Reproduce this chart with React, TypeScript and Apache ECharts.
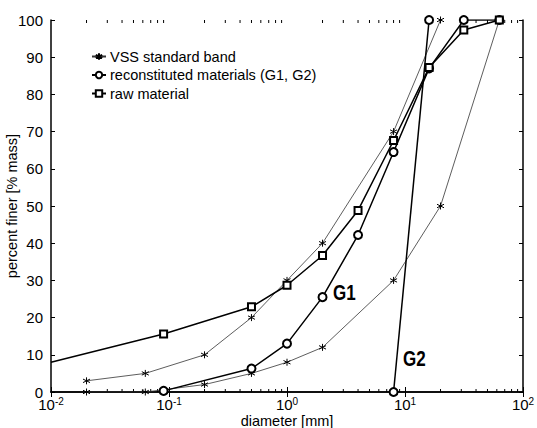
import React, { useEffect, useRef } from "react";
import * as echarts from "echarts";

// diameters [mm]
const vssLowerX = [0.02, 0.063, 0.2, 0.5, 1, 2, 8, 20, 63];
const vssLowerY = [0, 0, 2, 5, 8, 12, 30, 50, 100];
const vssUpperX = [0.02, 0.063, 0.2, 0.5, 1, 2, 8, 20];
const vssUpperY = [3, 5, 10, 20, 30, 40, 70, 100];
const g1X = [0.09, 0.5, 1, 2, 4, 8, 16, 31.5, 63];
const g1Y = [0.3, 6.3, 13, 25.5, 42.2, 64.5, 87, 100, 100];
const g2X = [8, 16];
const g2Y = [0, 100];
const rawX = [0.01, 0.09, 0.5, 1, 2, 4, 8, 16, 31.5, 63];
const rawY = [8, 15.6, 22.9, 28.7, 36.7, 48.8, 67.6, 87.2, 97.3, 100];
const decades = [0.01, 0.1, 1, 10];
const minorMults = [2, 3, 4, 5, 6, 7, 8, 9];

const VSS = "VSS standard band";
const REC = "reconstituted materials (G1, G2)";
const RAW = "raw material";
const FONT = "Liberation Sans, Arial, Helvetica, sans-serif";

const STAR = "path://M5,0L5,10M0.67,2.5L9.33,7.5M0.67,7.5L9.33,2.5";

function zip(xs: number[], ys: number[]) {
  return xs.map((x, i) => [x, ys[i]]);
}

export default function App() {
  const ref = useRef<HTMLDivElement>(null);
  useEffect(() => {
    if (!ref.current) return;
    const chart = echarts.init(ref.current, null, { renderer: "svg" });
    const minor: number[][] = [];
    decades.forEach((d) => minorMults.forEach((m) => minor.push([d * m])));

    const vssStyle = {
      type: "line",
      name: VSS,
      symbol: STAR,
      symbolSize: 7,
      showSymbol: true,
      lineStyle: { color: "#333", width: 0.8 },
      itemStyle: { color: "#000", borderColor: "#000", borderWidth: 1 },
      z: 3,
    };
    const recStyle = {
      type: "line",
      name: REC,
      symbol: "emptyCircle",
      symbolSize: 8,
      lineStyle: { color: "#000", width: 1.5 },
      itemStyle: { color: "#000", borderColor: "#000", borderWidth: 1.2 },
      z: 4,
    };

    chart.setOption({
      animation: false,
      textStyle: { fontFamily: FONT },
      grid: { left: 51, right: 14, top: 20, bottom: 36, outerBoundsMode: "none", containLabel: false },
      legend: {
        data: [VSS, REC, RAW],
        orient: "vertical",
        left: 86,
        top: 44,
        itemWidth: 14,
        itemHeight: 8,
        itemGap: 3.5,
        textStyle: { fontSize: 14.5, color: "#000", fontFamily: FONT, padding: [0, 0, 0, -1] },
        selectedMode: false,
      },
      xAxis: [
        {
          type: "log",
          logBase: 10,
          min: 0.01,
          max: 100,
          name: "diameter [mm]",
          nameLocation: "middle",
          nameGap: 21.5,
          nameMoveOverlap: false,
          nameTextStyle: { fontSize: 14.5, color: "#000", fontFamily: FONT, lineHeight: 14 },
          axisLine: { lineStyle: { color: "#000", width: 1.5 } },
          axisTick: { inside: true, length: 5, lineStyle: { color: "#000" } },
          splitLine: { show: false },
          axisLabel: {
            margin: 4,
            color: "#000",
            formatter: (v: number) => {
              const e = Math.round(Math.log10(v));
              return `{b|10}{s|${e}}`;
            },
            rich: {
              b: { fontSize: 15, lineHeight: 16, fontFamily: FONT, color: "#000" },
              s: { fontSize: 10, lineHeight: 10, fontFamily: FONT, color: "#000", verticalAlign: "top" },
            },
          },
        },
        {
          type: "log",
          logBase: 10,
          min: 0.01,
          max: 100,
          position: "top",
          axisLine: { lineStyle: { color: "#000", width: 1.5 } },
          axisTick: { inside: true, length: 5, lineStyle: { color: "#000" } },
          axisLabel: { show: false },
          splitLine: { show: false },
        },
      ],
      yAxis: [
        {
          type: "value",
          min: 0,
          max: 100,
          interval: 10,
          name: "percent finer [% mass]",
          nameLocation: "middle",
          nameGap: 32,
          nameMoveOverlap: false,
          nameTextStyle: { fontSize: 14.5, color: "#000", fontFamily: FONT },
          axisLine: { show: true, lineStyle: { color: "#000", width: 1.5 } },
          axisTick: { show: true, inside: true, length: 4, lineStyle: { color: "#000" } },
          splitLine: { show: false },
          axisLabel: { fontSize: 15, lineHeight: 14, color: "#000", margin: 8, fontFamily: FONT },
        },
        {
          type: "value",
          min: 0,
          max: 100,
          interval: 10,
          position: "right",
          axisLine: { show: true, lineStyle: { color: "#000", width: 1.5 } },
          axisTick: { show: true, inside: true, length: 4, lineStyle: { color: "#000" } },
          splitLine: { show: false },
          axisLabel: { show: false },
        },
      ],
      series: [
        { ...vssStyle, data: zip(vssLowerX, vssLowerY) },
        { ...vssStyle, data: zip(vssUpperX, vssUpperY) },
        { ...recStyle, data: zip(g1X, g1Y) },
        { ...recStyle, data: zip(g2X, g2Y) },
        {
          type: "line",
          name: RAW,
          symbol: "emptyRect",
          symbolSize: 7,
          data: zip(rawX, rawY).map((p, i) => (i === 0 ? { value: p, symbol: "none" } : p)),
          lineStyle: { color: "#000", width: 1.5 },
          itemStyle: { color: "#000", borderColor: "#000", borderWidth: 1.2 },
          z: 5,
        },
        {
          type: "custom",
          name: "minorTicks",
          silent: true,
          data: minor,
          renderItem: (params: any, api: any) => {
            const x = api.value(0);
            const b = api.coord([x, 0]);
            const t = api.coord([x, 100]);
            return {
              type: "group",
              children: [
                { type: "line", shape: { x1: b[0], y1: b[1], x2: b[0], y2: b[1] - 3 }, style: { stroke: "#000", lineWidth: 1 } },
                { type: "line", shape: { x1: t[0], y1: t[1], x2: t[0], y2: t[1] + 3 }, style: { stroke: "#000", lineWidth: 1 } },
              ],
            };
          },
        },
      ],
      graphic: [
        { type: "text", x: 333, y: 282, scaleY: 1.25, style: { text: "G1", font: `bold 17px ${FONT}`, fill: "#000" } },
        { type: "text", x: 403, y: 348, scaleY: 1.25, style: { text: "G2", font: `bold 17px ${FONT}`, fill: "#000" } },
      ],
    });
    return () => chart.dispose();
  }, []);
  return <div ref={ref} style={{ position: "absolute", left: 0, top: 0, width: 537, height: 428, background: "#fff" }} />;
}
